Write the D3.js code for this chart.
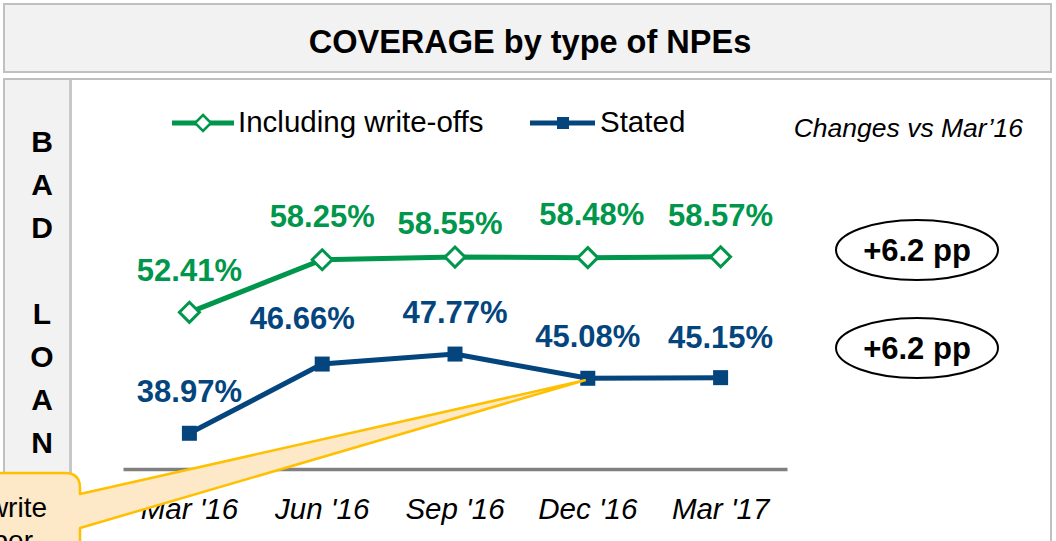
<!DOCTYPE html>
<html>
<head>
<meta charset="utf-8">
<script src="https://cdn.jsdelivr.net/npm/d3@7"></script>
<style>
  body { margin: 0; background: #fff; }
  svg { display: block; font-family: "Liberation Sans", Arial, sans-serif; }
</style>
</head>
<body>
<div id="chart"></div>
<script>
// Data
var categories = ["Mar '16", "Jun '16", "Sep '16", "Dec '16", "Mar '17"];
var inclWriteOffs = [52.41, 58.25, 58.55, 58.48, 58.57];
var stated = [38.97, 46.66, 47.77, 45.08, 45.15];
var changes = ["+6.2 pp", "+6.2 pp"];
var sideLetters = ["B", "A", "D", "", "L", "O", "A", "N", "S"];

// small label nudges (layout only)
var inclNudge = [[0, 0], [0, -2], [-5, 8], [4, -2], [0, 0]];
var statedNudge = [[0, 0], [-20, -4], [0, 0], [0, 0], [0, 1]];

var W = 1056, H = 541;
var green = "#00964B", blue = "#04457E";

var svg = d3.select("#chart").append("svg")
  .attr("width", W)
  .attr("height", H);

// Title box
svg.append("rect")
  .attr("x", 4).attr("y", 4).attr("width", 1047).attr("height", 68)
  .attr("fill", "#f2f2f2").attr("stroke", "#c0c0c0").attr("stroke-width", 2);
svg.append("text")
  .attr("x", 530).attr("y", 53)
  .attr("text-anchor", "middle")
  .style("font-size", "32.5px").style("font-weight", "bold")
  .text("COVERAGE by type of NPEs");

// Lower panel
svg.append("rect")
  .attr("x", 4).attr("y", 79).attr("width", 1047).attr("height", 490)
  .attr("fill", "#fff").attr("stroke", "#c0c0c0").attr("stroke-width", 2);
svg.append("rect")
  .attr("x", 5).attr("y", 80).attr("width", 64).attr("height", 480)
  .attr("fill", "#f2f2f2");
svg.append("line")
  .attr("x1", 70.5).attr("x2", 70.5).attr("y1", 80).attr("y2", 560)
  .attr("stroke", "#c8c8c8").attr("stroke-width", 3);

// Vertical side label
svg.append("g").selectAll("text")
  .data(sideLetters)
  .enter().append("text")
  .attr("x", 42)
  .attr("y", function(d, i) { return 141 + i * 43 + 11; })
  .attr("text-anchor", "middle")
  .style("font-size", "30px").style("font-weight", "bold")
  .text(function(d) { return d; });

// Scales
var x = d3.scaleBand().domain(categories).range([123, 787]);
var y = d3.scaleLinear().domain([35, 70]).range([469, 154]);
var cx = function(i) { return x(categories[i]) + x.bandwidth() / 2; };

// Axis
var axis = svg.append("g")
  .attr("transform", "translate(0,469)")
  .call(d3.axisBottom(x).tickSize(0).tickPadding(29));
axis.select(".domain").attr("stroke", "#808080").attr("stroke-width", 3.5);
axis.selectAll(".tick text")
  .attr("fill", "#000")
  .style("font-size", "29.5px").style("font-style", "italic")
  .style("font-family", "'Liberation Sans', Arial, sans-serif");

// Lines
var line = d3.line()
  .x(function(d, i) { return cx(i); })
  .y(function(d) { return y(d); });

svg.append("path").datum(stated)
  .attr("d", line).attr("fill", "none")
  .attr("stroke", blue).attr("stroke-width", 5);
svg.append("path").datum(inclWriteOffs)
  .attr("d", line).attr("fill", "none")
  .attr("stroke", green).attr("stroke-width", 5);

// Markers
svg.append("g").selectAll("rect")
  .data(stated).enter().append("rect")
  .attr("x", function(d, i) { return cx(i) - 7.5; })
  .attr("y", function(d) { return y(d) - 7.5; })
  .attr("width", 15).attr("height", 15)
  .attr("fill", blue);

var diamond = function(px, py, r) {
  return "M" + px + "," + (py - r) + "L" + (px + r) + "," + py +
    "L" + px + "," + (py + r) + "L" + (px - r) + "," + py + "Z";
};
svg.append("g").selectAll("path")
  .data(inclWriteOffs).enter().append("path")
  .attr("d", function(d, i) { return diamond(cx(i), y(d), 10); })
  .attr("fill", "#fff").attr("stroke", green).attr("stroke-width", 3);

// Data labels
svg.append("g").selectAll("text")
  .data(inclWriteOffs).enter().append("text")
  .attr("x", function(d, i) { return cx(i) + inclNudge[i][0]; })
  .attr("y", function(d, i) { return y(d) - 31 + inclNudge[i][1]; })
  .attr("text-anchor", "middle")
  .attr("fill", green)
  .style("font-size", "31px").style("font-weight", "bold")
  .text(function(d) { return d.toFixed(2) + "%"; });

svg.append("g").selectAll("text")
  .data(stated).enter().append("text")
  .attr("x", function(d, i) { return cx(i) + statedNudge[i][0]; })
  .attr("y", function(d, i) { return y(d) - 31 + statedNudge[i][1]; })
  .attr("text-anchor", "middle")
  .attr("fill", blue)
  .style("font-size", "31px").style("font-weight", "bold")
  .text(function(d) { return d.toFixed(2) + "%"; });

// Legend
var lg = svg.append("g");
lg.append("line").attr("x1", 172).attr("x2", 234).attr("y1", 123).attr("y2", 123)
  .attr("stroke", green).attr("stroke-width", 5);
lg.append("path").attr("d", diamond(203, 123, 8))
  .attr("fill", "#fff").attr("stroke", green).attr("stroke-width", 2.5);
lg.append("text").attr("x", 238).attr("y", 132)
  .style("font-size", "29.5px").text("Including write-offs");

lg.append("line").attr("x1", 530).attr("x2", 595).attr("y1", 123).attr("y2", 123)
  .attr("stroke", blue).attr("stroke-width", 5);
lg.append("rect").attr("x", 557).attr("y", 117).attr("width", 12).attr("height", 12)
  .attr("fill", blue);
lg.append("text").attr("x", 600).attr("y", 132)
  .style("font-size", "29.5px").text("Stated");

// Changes column
svg.append("text")
  .attr("x", 1023).attr("y", 137)
  .attr("text-anchor", "end")
  .style("font-size", "26.5px").style("font-style", "italic")
  .text("Changes vs Mar\u201916");

var chg = svg.append("g").selectAll("g")
  .data(changes).enter().append("g")
  .attr("transform", function(d, i) { return "translate(917," + (250 + i * 98) + ")"; });
chg.append("ellipse")
  .attr("rx", 81).attr("ry", 30)
  .attr("fill", "#fff").attr("stroke", "#000").attr("stroke-width", 2);
chg.append("text")
  .attr("y", 11)
  .attr("text-anchor", "middle")
  .style("font-size", "31px").style("font-weight", "bold")
  .text(function(d) { return d; });

// Callout pointing to Dec '16 stated point
var tipX = cx(3) - 3, tipY = y(stated[3]) + 2;
svg.append("path")
  .attr("d", "M-20,473H65Q80,473 80,488V494L" + tipX + "," + tipY +
    "L80,528V600H-20Z")
  .attr("fill", "#fde8c8").attr("stroke", "#ffc000").attr("stroke-width", 2.5)
  .attr("stroke-linejoin", "round");
svg.append("text").attr("x", 47).attr("y", 517)
  .attr("text-anchor", "end")
  .style("font-size", "28px").text("write");
svg.append("text").attr("x", 33).attr("y", 550)
  .attr("text-anchor", "end")
  .style("font-size", "28px").text("number");
</script>
</body>
</html>
